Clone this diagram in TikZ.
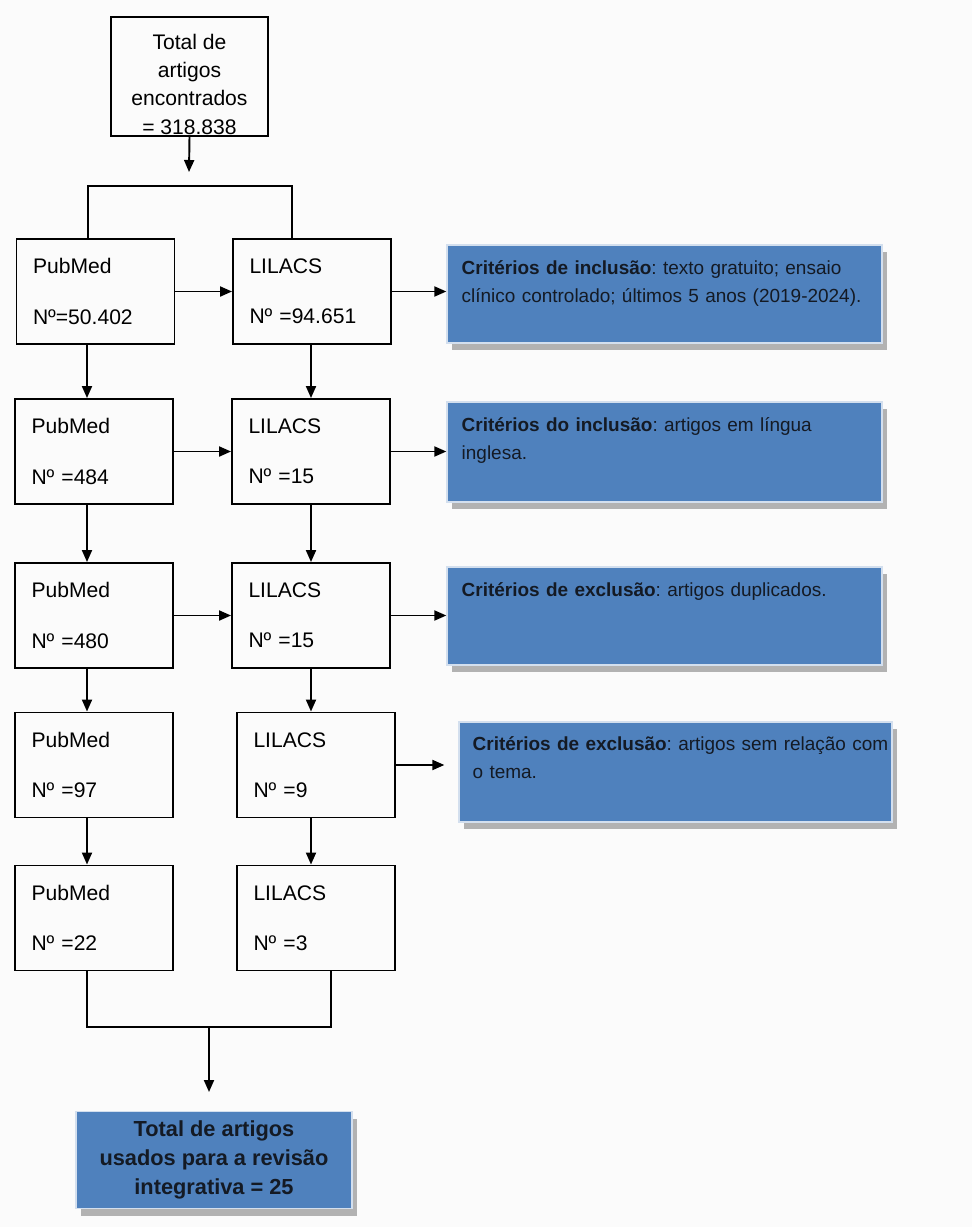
\documentclass[tikz,border=0pt]{standalone}
\usepackage{fontspec}
\setmainfont{Liberation Sans}
\usetikzlibrary{positioning,arrows.meta,shadows}
\frenchspacing

\definecolor{critblue}{HTML}{4F81BD}
\definecolor{critink}{HTML}{141A24}

\begin{document}
\begin{tikzpicture}[
  x=0.02cm, y=-0.02cm,
  base/.style={draw, line width=1.1pt, font=\fontsize{12}{16}\selectfont},
  dbbox/.style={base, minimum width=3.16cm, minimum height=2.1cm, text width=2.5cm, inner xsep=0.32cm, align=left},
  totalbox/.style={base, minimum width=3.14cm, minimum height=2.38cm, align=center, inner sep=0pt},
  critbox/.style={fill=critblue, draw=white!75!critblue, line width=.8pt,
    drop shadow={shadow xshift=.1cm, shadow yshift=-.14cm, fill=gray!60, opacity=1}},
  crittext/.style={anchor=north west, inner sep=0pt, text width=8.7cm, align=left, text=critink, font=\fontsize{10.8}{16}\selectfont},
  arr/.style={line width=1.1pt, -{Triangle[length=2.4mm,width=2mm]}},
  joint/.style={line width=1.6pt}
]
  \useasboundingbox[fill=white!98.5!black] (0,0) rectangle (972,1227);

  % Start
  \node[totalbox] (top) at (189.5,76.5) {\rule{0pt}{0.62cm}Total de\\artigos\\encontrados\\= 318.838};

  % Databases
  \node[dbbox] (pub1) at (95.5,291.5) {PubMed\\[0.44cm]Nº=50.402};
  \node[dbbox] (lil1) at (312,291.5) {LILACS\\[0.44cm]Nº =94.651};
  \node[dbbox] (pub2) at (94,451.5) {PubMed\\[0.44cm]Nº =484};
  \node[dbbox] (lil2) at (311,451.5) {LILACS\\[0.44cm]Nº =15};
  \node[dbbox] (pub3) at (94,615.5) {PubMed\\[0.44cm]Nº =480};
  \node[dbbox] (lil3) at (311,615.5) {LILACS\\[0.44cm]Nº =15};
  \node[dbbox] (pub4) at (94,765) {PubMed\\[0.44cm]Nº =97};
  \node[dbbox] (lil4) at (316,765) {LILACS\\[0.44cm]Nº =9};
  \node[dbbox] (pub5) at (94,918) {PubMed\\[0.44cm]Nº =22};
  \node[dbbox] (lil5) at (316,918) {LILACS\\[0.44cm]Nº =3};

  % Criteria
  \node[critbox, minimum width=8.7cm, minimum height=1.96cm] (crit1) at (664.5,294) {};
  \node[critbox, minimum width=8.7cm, minimum height=2cm] (crit2) at (664.5,452) {};
  \node[critbox, minimum width=8.7cm, minimum height=1.96cm] (crit3) at (664.5,616) {};
  \node[critbox, minimum width=8.66cm, minimum height=2cm] (crit4) at (675.5,772) {};

  \node[crittext] (crit1txt) at ([shift={(0.3cm,-0.31cm)}]crit1.north west)
    {\textbf{Critérios de inclusão}: texto gratuito; ensaio\\clínico controlado; últimos 5 anos (2019-2024).};
  \node[crittext] (crit2txt) at ([shift={(0.3cm,-0.31cm)}]crit2.north west)
    {\textbf{Critérios do inclusão}: artigos em língua\\inglesa.};
  \node[crittext] (crit3txt) at ([shift={(0.3cm,-0.31cm)}]crit3.north west)
    {\textbf{Critérios de exclusão}: artigos duplicados.};
  \node[crittext] (crit4txt) at ([shift={(0.28cm,-0.29cm)}]crit4.north west)
    {\textbf{Critérios de exclusão}: artigos sem relação com\\o tema.};

  % Result
  \node[critbox, minimum width=5.52cm, minimum height=1.94cm, text=critink, align=center,
    font=\bfseries\fontsize{12.4}{16.5}\selectfont] (final) at (214,1160)
    {Total de artigos\\usados para a revisão\\integrativa = 25};

  % Connectors
  \coordinate (topend) at (189,172);
  \coordinate (splitL) at (88,186);
  \coordinate (splitR) at (292,186);
  \coordinate (colP) at (87,0);
  \coordinate (colL) at (311,0);
  \coordinate (joinL) at (87,1027);
  \coordinate (joinM) at (209,1027);
  \coordinate (joinR) at (331,1027);
  \coordinate (finalend) at (209,1092);

  \draw[arr] (top.south) -- (topend);
  \draw[joint] (pub1.north -| splitL) |- (splitR) -- (lil1.north -| splitR);

  \foreach \a/\b in {1/2,2/3,3/4,4/5} {
    \draw[arr] (pub\a.south -| colP) -- (pub\b.north -| colP);
    \draw[arr] (lil\a.south -| colL) -- (lil\b.north -| colL);
  }
  \foreach \i in {1,2,3} {
    \draw[arr] (pub\i.east) -- (lil\i.west);
    \draw[arr] (lil\i.east) -- (lil\i.east -| crit\i.west);
  }
  \draw[arr, shorten >=0.28cm] (lil4.east) -- (lil4.east -| crit4.west);

  \draw[joint] (pub5.south -| joinL) -- (joinL) -- (joinR) -- (lil5.south -| joinR);
  \draw[arr] (joinM) -- (finalend);
\end{tikzpicture}
\end{document}
